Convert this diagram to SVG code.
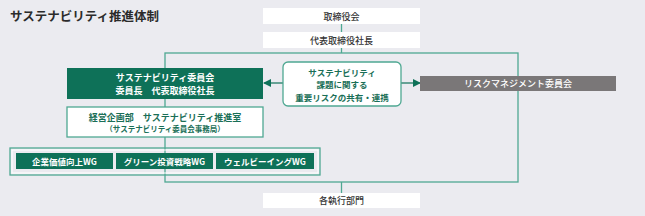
<svg xmlns="http://www.w3.org/2000/svg" width="645" height="216" viewBox="0 0 645 216">
<style>
text{font-family:"Noto Sans CJK JP","Noto Sans CJK SC",sans-serif;text-anchor:middle;dominant-baseline:central}
.wbox{fill:#ffffff}
.dk{fill:#0e7158}
.gl{fill:none;stroke:#4fa892;stroke-width:1.3}
.w{fill:#ffffff;font-weight:bold;font-size:9px}
.g{fill:#1a6f57;font-weight:bold;font-size:9px}
.k{fill:#333333;font-size:9px;font-weight:500}
</style>
<defs>
<marker id="ah" markerWidth="8" markerHeight="8" refX="7" refY="4" orient="auto" markerUnits="userSpaceOnUse">
<path d="M0,0 L8,4 L0,8 z" fill="#0e7158"/>
</marker>
</defs>
<rect x="0" y="0" width="645" height="216" fill="#ebebf0"/>
<text x="10" y="15" style="text-anchor:start;font-size:12.5px;font-weight:bold;fill:#2b2b2b">サステナビリティ推進体制</text>
<g id="connectors">
<rect class="gl" x="165" y="53" width="353" height="129"/>
<line class="gl" x1="341.5" y1="24" x2="341.5" y2="32"/>
<line class="gl" x1="341.5" y1="48" x2="341.5" y2="53"/>
<line class="gl" x1="341.5" y1="182" x2="341.5" y2="193"/>
<line x1="283" y1="83" x2="264" y2="83" stroke="#0e7158" stroke-width="1.2" marker-end="url(#ah)"/>
<line x1="401" y1="83" x2="420" y2="83" stroke="#0e7158" stroke-width="1.2" marker-end="url(#ah)"/>
</g>
<g id="board">
<rect class="wbox" x="263" y="8" width="157" height="16"/>
<text class="k" x="341.5" y="16">取締役会</text>
</g>
<g id="president">
<rect class="wbox" x="263" y="32" width="157" height="16"/>
<text class="k" x="341.5" y="40">代表取締役社長</text>
</g>
<g id="committee">
<rect class="dk" x="67" y="68" width="196" height="31"/>
<text class="w" x="165" y="77">サステナビリティ委員会</text>
<text class="w" x="165" y="90">委員長　代表取締役社長</text>
</g>
<g id="sharing">
<rect x="283" y="62" width="118" height="44" rx="5" fill="#ffffff" stroke="#4fa892" stroke-width="1.3"/>
<text class="g" x="342" y="71.5" style="font-size:8.5px">サステナビリティ</text>
<text class="g" x="342" y="84" style="font-size:8.5px">課題に関する</text>
<text class="g" x="342" y="96.5" style="font-size:8.5px">重要リスクの共有・連携</text>
</g>
<g id="risk">
<rect x="420" y="76" width="196" height="15" fill="#7a7778"/>
<text x="518" y="83.5" style="fill:#ffffff;font-size:9px;font-weight:500">リスクマネジメント委員会</text>
</g>
<g id="planning">
<rect x="67" y="107" width="196" height="30" fill="#ffffff" stroke="#4fa892" stroke-width="1.3"/>
<text class="g" x="165" y="117">経営企画部　サステナビリティ推進室</text>
<text class="g" x="165" y="128.5" style="font-size:7.5px">（サステナビリティ委員会事務局）</text>
</g>
<g id="wg">
<rect x="10" y="148" width="310" height="27" fill="none" stroke="#4fa892" stroke-width="1.3"/>
<rect x="12" y="150" width="306" height="23" fill="none" stroke="#ffffff" stroke-width="1"/>
</g>
<g id="wg1">
<rect class="dk" x="16" y="153" width="97" height="16"/>
<text class="w" x="64.5" y="161" style="font-size:8.5px">企業価値向上WG</text>
</g>
<g id="wg2">
<rect class="dk" x="116" y="153" width="97" height="16"/>
<text class="w" x="164.5" y="161" style="font-size:8.5px">グリーン投資戦略WG</text>
</g>
<g id="wg3">
<rect class="dk" x="216" y="153" width="98" height="16"/>
<text class="w" x="265" y="161" style="font-size:8.5px">ウェルビーイングWG</text>
</g>
<g id="divisions">
<rect class="wbox" x="263" y="193" width="157" height="15"/>
<text class="k" x="341.5" y="200.5">各執行部門</text>
</g>
</svg>
